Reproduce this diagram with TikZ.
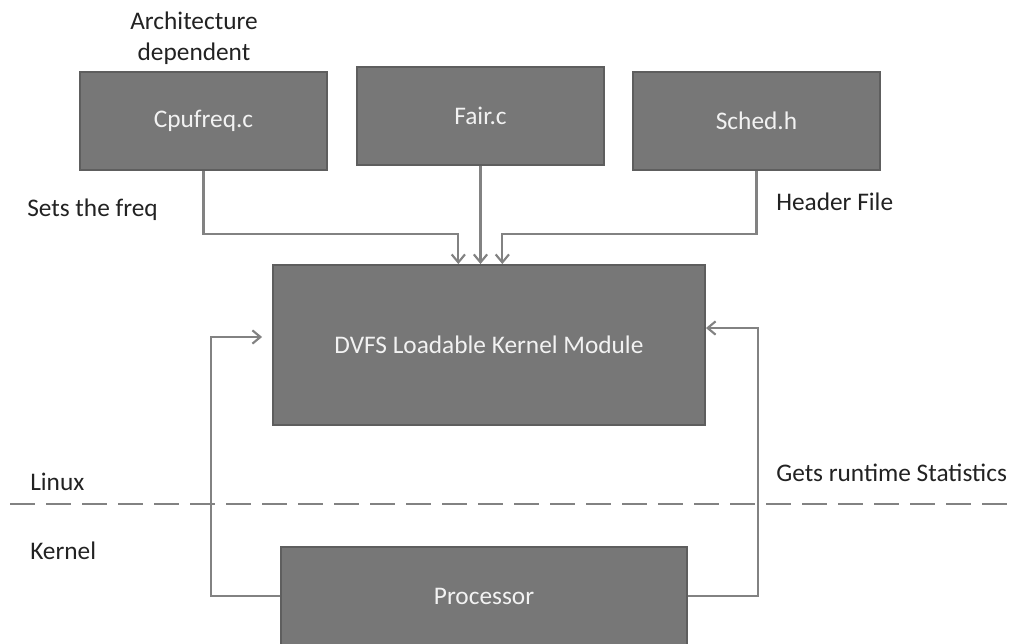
\documentclass[tikz,border=0pt]{standalone}
\usepackage{fontspec}
\setmainfont{Carlito}
\usetikzlibrary{arrows.meta}
\definecolor{boxfill}{HTML}{777777}
\definecolor{boxline}{HTML}{5E5E5E}
\definecolor{boxtext}{HTML}{F2F2F2}
\definecolor{wire}{HTML}{828282}
\definecolor{labeltext}{HTML}{222222}
\tikzset{
  modbox/.style={draw=boxline, line width=1.4pt, fill=boxfill, text=boxtext,
    minimum width=185pt, minimum height=73pt, inner sep=0pt,
    font=\fontsize{19}{23}\selectfont},
  conn/.style={draw=wire, line width=1.6pt, -{Straight Barb[length=6pt,width=10pt,line width=1.6pt]}},
  note/.style={text=labeltext, inner sep=0pt, font=\fontsize{19}{23}\selectfont}
}
\begin{document}
\begin{tikzpicture}[x=0.75pt,y=0.75pt,yscale=-1,xscale=1]
\useasboundingbox (0,0) rectangle (1017,643);
% source files
\node [modbox] (cpu) at (203.5,121) {Cpufreq.c};
\node [modbox] (fair) at (480.5,116) {Fair.c};
\node [modbox] (sched) at (756.5,121) {Sched.h};
% module and processor (runs off the bottom edge)
\node [modbox, minimum width=324pt, minimum height=120pt] (dvfs) at (489,345) {DVFS Loadable Kernel Module};
\node [modbox, minimum width=304.5pt, minimum height=84.75pt] (proc) at (484,603.5) {};
\node [text=boxtext, inner sep=0pt, font=\fontsize{19}{23}\selectfont] (proctext) at (484,596) {Processor};
% user / kernel boundary
\draw [draw=wire, line width=1.8pt, dash pattern=on 19pt off 8pt] (10,504) -- (1017,504);
% inputs to the module
\draw [conn] (cpu.south) -- ++(0,63) -| ([xshift=-23pt]dvfs.north);
\draw [conn] (fair.south) -- (fair.south |- dvfs.north);
\draw [conn] (sched.south) -- ++(0,63) -| ([xshift=10pt]dvfs.north);
% feedback loops
\draw [conn] ([yshift=-5.6pt]proc.west) -- ++(-69,0) |- ([xshift=-7.5pt,yshift=-6pt]dvfs.west);
\draw [conn] ([yshift=-5.6pt]proc.east) -- ++(70,0) |- ([yshift=-12.75pt]dvfs.east);
% labels
\node [note, align=center] (arch) at (194,38) {Architecture\\dependent};
\node [note, anchor=west] (setsfreq) at (27,210) {Sets the freq};
\node [note, anchor=west] (header) at (776,202) {Header File};
\node [note, anchor=west] (stats) at (776,473) {Gets runtime Statistics};
\node [note, anchor=west] (linux) at (30,482) {Linux};
\node [note, anchor=west] (kernel) at (30,551) {Kernel};
\end{tikzpicture}
\end{document}
